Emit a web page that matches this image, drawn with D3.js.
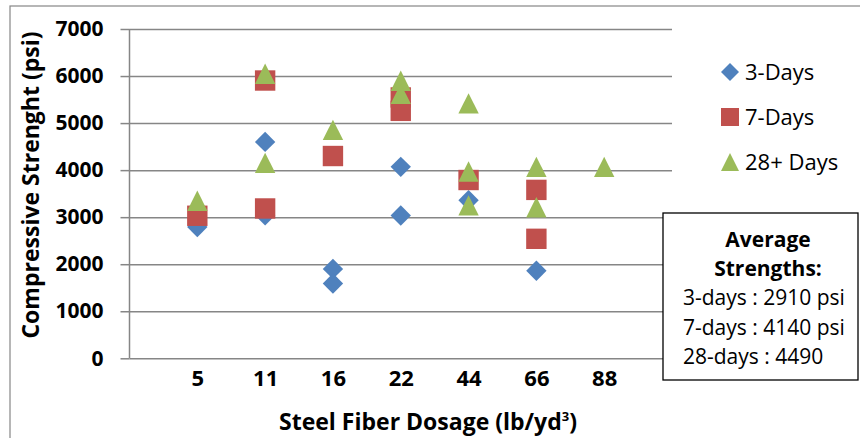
<!DOCTYPE html>
<html>
<head>
<script src="https://d3js.org/d3.v7.min.js"></script>
<style>
  body { margin: 0; background: #fff; }
  svg text { font-family: "Open Sans", sans-serif; }
</style>
</head>
<body>
<div id="chart"></div>
<script>
// Data
var categories = ["5", "11", "16", "22", "44", "66", "88"];
var yTicks = [0, 1000, 2000, 3000, 4000, 5000, 6000, 7000];

var days3 = [
  { x: "5", y: 2790 }, { x: "11", y: 4600 }, { x: "11", y: 3040 },
  { x: "16", y: 1900 }, { x: "16", y: 1590 }, { x: "22", y: 4070 },
  { x: "22", y: 3035 }, { x: "44", y: 3360 }, { x: "66", y: 1860 }
];
var days7 = [
  { x: "5", y: 3030 }, { x: "11", y: 5905 }, { x: "11", y: 3185 },
  { x: "16", y: 4300 }, { x: "22", y: 5545 }, { x: "22", y: 5260 },
  { x: "44", y: 3790 }, { x: "66", y: 3580 }, { x: "66", y: 2540 }
];
var days28 = [
  { x: "5", y: 3350 }, { x: "11", y: 6050 }, { x: "11", y: 4155 },
  { x: "16", y: 4855 }, { x: "22", y: 5900 }, { x: "22", y: 5620 },
  { x: "44", y: 5420 }, { x: "44", y: 3970 }, { x: "44", y: 3250 },
  { x: "66", y: 4070 }, { x: "66", y: 3210 }, { x: "88", y: 4070 }
];
var averageLines = ["3-days : 2910 psi", "7-days : 4140 psi", "28-days : 4490"];

// marker shapes, r = half width
var diamond = function(r) { return "M0," + (-r) + "L" + r + ",0L0," + r + "L" + (-r) + ",0Z"; };
var square = function(r) { return "M" + (-r) + "," + (-r) + "H" + r + "V" + r + "H" + (-r) + "Z"; };
var triangle = function(r) { return "M0," + (-r) + "L" + r + "," + r + "H" + (-r) + "Z"; };

var series = [
  { name: "3-Days", data: days3, color: "#4F81BD", shape: diamond },
  { name: "7-Days", data: days7, color: "#C0504D", shape: square },
  { name: "28+ Days", data: days28, color: "#9BBB59", shape: triangle }
];

var width = 860, height = 438;
var svg = d3.select("#chart").append("svg")
  .attr("width", width)
  .attr("height", height);

// chart border
svg.append("rect")
  .attr("x", 10).attr("y", 6)
  .attr("width", 860).attr("height", 460)
  .attr("fill", "none")
  .attr("stroke", "#868686")
  .attr("stroke-width", 1.2);

var plotLeft = 129.5, plotRight = 672, plotTop = 29, plotBottom = 358.3;

var x = d3.scalePoint()
  .domain(categories)
  .range([plotLeft, plotRight])
  .padding(1);

var y = d3.scaleLinear()
  .domain([0, 7000])
  .range([plotBottom, plotTop]);

// gridlines + y axis
var yAxis = svg.append("g")
  .attr("transform", "translate(" + plotLeft + ",0)")
  .call(d3.axisLeft(y).tickValues(yTicks).tickFormat(d3.format("d")).tickSize(9).tickPadding(17));
yAxis.select(".domain").remove();
yAxis.selectAll(".tick line").attr("stroke", "#868686").attr("stroke-width", 1.5);
yAxis.selectAll(".tick").append("line")
  .attr("x1", 0).attr("x2", plotRight - plotLeft)
  .attr("stroke", "#868686").attr("stroke-width", 1.5);
yAxis.selectAll(".tick text")
  .attr("font-size", 21).attr("font-weight", "bold").attr("fill", "#000")
  .attr("font-family", "Open Sans");

svg.append("line")
  .attr("x1", plotLeft).attr("x2", plotLeft)
  .attr("y1", plotTop).attr("y2", plotBottom)
  .attr("stroke", "#868686").attr("stroke-width", 1.5);

// x axis labels
var xAxis = svg.append("g")
  .attr("transform", "translate(0," + plotBottom + ")")
  .call(d3.axisBottom(x).tickSize(0).tickPadding(12));
xAxis.select(".domain").remove();
xAxis.selectAll(".tick text")
  .attr("font-size", 22).attr("font-weight", "bold").attr("fill", "#000")
  .attr("font-family", "Open Sans");

// markers
series.forEach(function(s) {
  svg.append("g").selectAll("path")
    .data(s.data)
    .enter()
    .append("path")
    .attr("d", s.shape(10.2))
    .attr("transform", function(d) { return "translate(" + x(d.x) + "," + y(d.y) + ")"; })
    .attr("fill", s.color);
});

// axis titles
var xt = svg.append("text")
  .attr("x", 428).attr("y", 430)
  .attr("text-anchor", "middle")
  .attr("font-size", 23).attr("font-weight", "bold");
xt.append("tspan").text("Steel Fiber Dosage (lb/yd");
xt.append("tspan").attr("font-size", 13).attr("dy", -9).text("3");
xt.append("tspan").attr("dy", 9).text(")");

svg.append("text")
  .attr("transform", "translate(39,185) rotate(-90)")
  .attr("text-anchor", "middle")
  .attr("font-size", 23).attr("font-weight", "bold")
  .text("Compressive Strenght (psi)");

// legend
var legend = svg.append("g").selectAll("g")
  .data(series)
  .enter()
  .append("g")
  .attr("transform", function(d, i) { return "translate(730," + (72 + i * 45) + ")"; });
legend.append("path")
  .attr("d", function(d) { return d.shape(9); })
  .attr("fill", function(d) { return d.color; });
legend.append("text")
  .attr("x", 15).attr("y", 8)
  .attr("font-size", 22)
  .text(function(d) { return d.name; });

// average text box
svg.append("rect")
  .attr("x", 663).attr("y", 213)
  .attr("width", 195).attr("height", 167)
  .attr("fill", "#fff")
  .attr("stroke", "#000")
  .attr("stroke-width", 1.3);
svg.append("text").attr("x", 768).attr("y", 247)
  .attr("text-anchor", "middle").attr("font-size", 21).attr("font-weight", "bold")
  .text("Average");
svg.append("text").attr("x", 768).attr("y", 276)
  .attr("text-anchor", "middle").attr("font-size", 21).attr("font-weight", "bold")
  .text("Strengths:");
svg.append("g").selectAll("text")
  .data(averageLines)
  .enter()
  .append("text")
  .attr("x", 683)
  .attr("y", function(d, i) { return 305 + i * 29.5; })
  .attr("font-size", 21)
  .text(function(d) { return d; });
</script>
</body>
</html>
